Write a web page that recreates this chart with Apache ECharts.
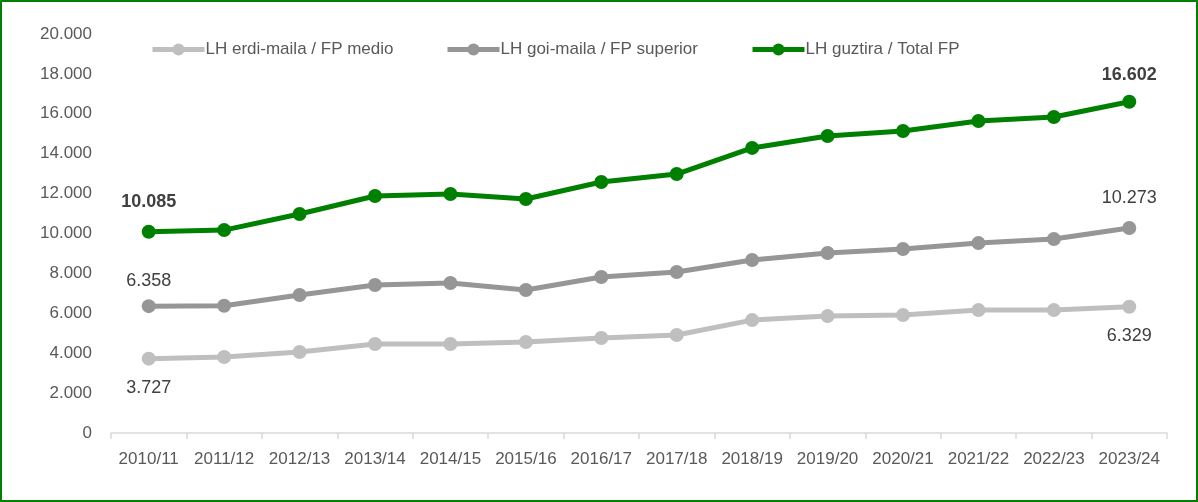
<!DOCTYPE html>
<html>
<head>
<meta charset="utf-8">
<script src="https://cdn.jsdelivr.net/npm/echarts@6/dist/echarts.min.js"></script>
<style>
html,body{margin:0;padding:0;background:#fff;}
#wrap{width:1198px;height:502px;box-sizing:border-box;border:2px solid #008000;}
#chart{width:1194px;height:498px;}
</style>
</head>
<body>
<div id="wrap"><div id="chart"></div></div>
<script>
const categories = ['2010/11','2011/12','2012/13','2013/14','2014/15','2015/16','2016/17','2017/18','2018/19','2019/20','2020/21','2021/22','2022/23','2023/24'];
const medio    = [3727, 3810, 4060, 4460, 4460, 4560, 4760, 4910, 5660, 5860, 5910, 6160, 6160, 6329];
const superior = [6358, 6380, 6920, 7420, 7520, 7170, 7820, 8070, 8670, 9020, 9220, 9520, 9720, 10273];
const total    = [10085, 10170, 10980, 11880, 11980, 11730, 12580, 12980, 14290, 14890, 15140, 15640, 15840, 16602];
const seriesNames = ['LH erdi-maila / FP medio', 'LH goi-maila / FP superior', 'LH guztira / Total FP'];
const colors = ['#bfbfbf', '#969696', '#008000'];

function fmt(v){
  const s = String(Math.round(v));
  return s.replace(/\B(?=(\d{3})+(?!\d))/g, '.');
}
const FONT = '"Liberation Sans Narrow", "Arial Narrow", "Liberation Sans", sans-serif';
const last = categories.length - 1;

// build data items; only first and last carry a visible label
function withLabels(values, pos, bold, distFirst, distLast){
  return values.map((v, i) => {
    if (i !== 0 && i !== last) return v;
    return {
      value: v,
      label: {
        show: true,
        position: pos,
        distance: i === 0 ? distFirst : distLast,
        fontFamily: FONT,
        fontSize: 18,
        fontWeight: bold ? 'bold' : 'normal',
        color: '#404040',
        formatter: p => fmt(p.value)
      }
    };
  });
}

const legendLefts = [143, 438, 743];
const legends = seriesNames.map((n, i) => ({
  left: legendLefts[i], top: 34,
  itemWidth: 52, itemHeight: 15,
  lineStyle: {width: 5},
  textStyle: {fontFamily: FONT, fontSize: 17, color: '#595959', padding: [0,0,0,-4]},
  data: [n]
}));

function lineSeries(i, data){
  return {
    name: seriesNames[i], type: 'line', data: data,
    symbol: 'circle', symbolSize: 14,
    lineStyle: {width: 5, color: colors[i]},
    itemStyle: {color: colors[i]}
  };
}

const chart = echarts.init(document.getElementById('chart'));
chart.setOption({
  animation: false,
  textStyle: {fontFamily: FONT},
  grid: {left: 109, right: 29, top: 32, bottom: 67},
  legend: legends,
  xAxis: {
    type: 'category',
    data: categories,
    boundaryGap: true,
    axisLine: {lineStyle: {color: '#d9d9d9', width: 1.5}},
    axisTick: {show: true, length: 6, lineStyle: {color: '#d9d9d9', width: 1.5}},
    axisLabel: {fontFamily: FONT, fontSize: 17, color: '#595959', margin: 18, interval: 0}
  },
  yAxis: {
    type: 'value',
    min: 0, max: 20000, interval: 2000,
    splitLine: {show: false},
    axisLine: {show: false},
    axisTick: {show: false},
    axisLabel: {fontFamily: FONT, fontSize: 17, color: '#595959', margin: 19, formatter: v => fmt(v)}
  },
  series: [
    lineSeries(0, withLabels(medio, 'bottom', false, 13, 13)),
    lineSeries(1, withLabels(superior, 'top', false, 9, 14)),
    lineSeries(2, withLabels(total, 'top', true, 14, 11))
  ]
});
</script>
</body>
</html>
